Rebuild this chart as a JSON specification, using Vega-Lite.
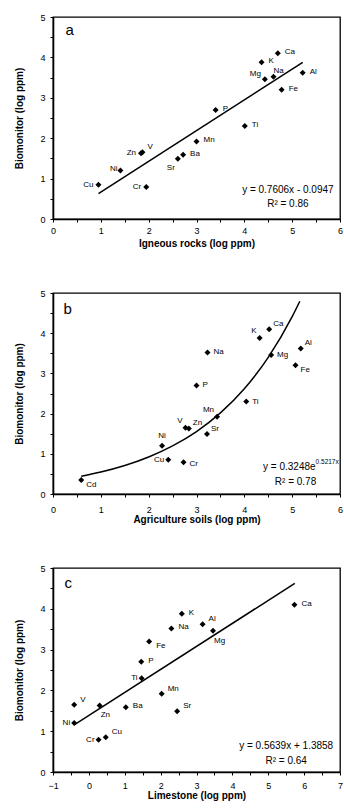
{
"$schema": "https://vega.github.io/schema/vega-lite/v6.json",
"background": "white",
"padding": {"left": 14, "top": 12, "right": 2, "bottom": 2},
"bounds": "flush",
"spacing": 74,
"config": {
  "font": "Liberation Sans",
  "view": {"stroke": "black", "strokeWidth": 1.3},
  "mark": {"color": "black"},
  "axis": {"grid": false, "domainColor": "black", "domainWidth": 1.6, "tickColor": "black", "tickSize": 3, "tickWidth": 1, "labelColor": "black", "labelFont": "Liberation Sans", "labelFontSize": 9, "titleFont": "Liberation Sans", "titleFontSize": 10, "titleFontWeight": "bold", "titleColor": "black", "labelOverlap": false},
  "axisX": {"labelPadding": 4, "titlePadding": 3, "labelFlush": false},
  "axisY": {"labelPadding": 5, "titlePadding": 15},
  "text": {"font": "Liberation Sans", "fill": "black", "color": "black"}
},
"datasets": {
  "a": [
    {"el": "Cu", "x": 0.95, "y": 0.85}, {"el": "Ni", "x": 1.41, "y": 1.20}, {"el": "Zn", "x": 1.84, "y": 1.63}, {"el": "V", "x": 1.87, "y": 1.65},
    {"el": "Cr", "x": 1.95, "y": 0.79}, {"el": "Sr", "x": 2.61, "y": 1.49}, {"el": "Ba", "x": 2.72, "y": 1.59}, {"el": "Mn", "x": 3.00, "y": 1.92},
    {"el": "P", "x": 3.40, "y": 2.70}, {"el": "Ti", "x": 4.01, "y": 2.30}, {"el": "K", "x": 4.36, "y": 3.88}, {"el": "Mg", "x": 4.43, "y": 3.46},
    {"el": "Na", "x": 4.61, "y": 3.52}, {"el": "Ca", "x": 4.70, "y": 4.10}, {"el": "Fe", "x": 4.78, "y": 3.20}, {"el": "Al", "x": 5.22, "y": 3.62}
  ],
  "b": [
    {"el": "Cd", "x": 0.59, "y": 0.35}, {"el": "Ni", "x": 2.28, "y": 1.20}, {"el": "Cu", "x": 2.41, "y": 0.85}, {"el": "Cr", "x": 2.73, "y": 0.79},
    {"el": "V", "x": 2.77, "y": 1.65}, {"el": "Zn", "x": 2.84, "y": 1.63}, {"el": "P", "x": 3.00, "y": 2.70}, {"el": "Sr", "x": 3.22, "y": 1.49},
    {"el": "Na", "x": 3.23, "y": 3.52}, {"el": "Mn", "x": 3.43, "y": 1.92}, {"el": "Ti", "x": 4.04, "y": 2.30}, {"el": "K", "x": 4.32, "y": 3.88},
    {"el": "Ca", "x": 4.52, "y": 4.10}, {"el": "Mg", "x": 4.56, "y": 3.46}, {"el": "Fe", "x": 5.07, "y": 3.20}, {"el": "Al", "x": 5.18, "y": 3.62}
  ],
  "c": [
    {"el": "V", "x": -0.41, "y": 1.65}, {"el": "Ni", "x": -0.41, "y": 1.20}, {"el": "Cr", "x": 0.27, "y": 0.79}, {"el": "Zn", "x": 0.30, "y": 1.63},
    {"el": "Cu", "x": 0.47, "y": 0.85}, {"el": "Ba", "x": 1.03, "y": 1.59}, {"el": "P", "x": 1.46, "y": 2.70}, {"el": "Ti", "x": 1.47, "y": 2.30},
    {"el": "Fe", "x": 1.68, "y": 3.20}, {"el": "Mn", "x": 2.03, "y": 1.92}, {"el": "Na", "x": 2.30, "y": 3.52}, {"el": "Sr", "x": 2.46, "y": 1.49},
    {"el": "K", "x": 2.59, "y": 3.88}, {"el": "Al", "x": 3.17, "y": 3.62}, {"el": "Mg", "x": 3.46, "y": 3.46}, {"el": "Ca", "x": 5.73, "y": 4.10}
  ],
  "fa": [{"x": 0.95, "y": 0.628}, {"x": 5.22, "y": 3.876}],
  "fb": [{"x": 0.59, "y": 0.442}, {"x": 1.0, "y": 0.547}, {"x": 1.5, "y": 0.710}, {"x": 2.0, "y": 0.922}, {"x": 2.5, "y": 1.197}, {"x": 3.0, "y": 1.554}, {"x": 3.5, "y": 2.017}, {"x": 4.0, "y": 2.618}, {"x": 4.5, "y": 3.398}, {"x": 5.0, "y": 4.410}, {"x": 5.16, "y": 4.794}],
  "fc": [{"x": -0.41, "y": 1.155}, {"x": 5.74, "y": 4.623}]
},
"vconcat": [
  {
    "width": 287, "height": 202,
    "data": {"name": "a"},
    "encoding": {
      "x": {"field": "x", "type": "quantitative", "scale": {"domain": [0, 6], "nice": false, "zero": false}, "axis": {"title": "Igneous rocks (log ppm)", "values": [0,0.5,1,1.5,2,2.5,3,3.5,4,4.5,5,5.5,6], "labelExpr": "datum.value % 1 ? '' : format(datum.value, 'd')"}},
      "y": {"field": "y", "type": "quantitative", "scale": {"domain": [0, 5], "nice": false, "zero": false}, "axis": {"title": "Biomonitor (log ppm)", "values": [0,0.5,1,1.5,2,2.5,3,3.5,4,4.5,5], "labelExpr": "datum.value % 1 ? '' : format(datum.value, 'd')"}}
    },
    "layer": [
      {"data": {"name": "fa"}, "mark": {"type": "line", "color": "black", "strokeWidth": 1.5}},
      {"mark": {"type": "point", "shape": "diamond", "filled": true, "color": "black", "size": 36, "opacity": 1}},
      {"transform": [{"filter": {"field": "el", "oneOf": ["Ba", "Mn", "P", "Ti", "K", "Ca", "Al", "Fe"]}}], "mark": {"type": "text", "color": "black", "align": "left", "baseline": "middle", "dx": 7, "dy": -1, "fontSize": 8}, "encoding": {"text": {"field": "el"}}},
      {"transform": [{"filter": {"field": "el", "oneOf": ["Cu", "Zn", "Cr"]}}], "mark": {"type": "text", "color": "black", "align": "right", "baseline": "middle", "dx": -5, "dy": 0, "fontSize": 8}, "encoding": {"text": {"field": "el"}}},
      {"transform": [{"filter": {"field": "el", "oneOf": ["Ni"]}}], "mark": {"type": "text", "color": "black", "align": "right", "baseline": "middle", "dx": -3, "dy": -2, "fontSize": 8}, "encoding": {"text": {"field": "el"}}},
      {"transform": [{"filter": {"field": "el", "oneOf": ["V"]}}], "mark": {"type": "text", "color": "black", "align": "left", "baseline": "middle", "dx": 5, "dy": -5, "fontSize": 8}, "encoding": {"text": {"field": "el"}}},
      {"transform": [{"filter": {"field": "el", "oneOf": ["Mg"]}}], "mark": {"type": "text", "color": "black", "align": "right", "baseline": "middle", "dx": -4, "dy": -5, "fontSize": 8}, "encoding": {"text": {"field": "el"}}},
      {"transform": [{"filter": {"field": "el", "oneOf": ["Sr"]}}], "mark": {"type": "text", "color": "black", "align": "right", "baseline": "middle", "dx": -3, "dy": 9, "fontSize": 8}, "encoding": {"text": {"field": "el"}}},
      {"transform": [{"filter": {"field": "el", "oneOf": ["Na"]}}], "mark": {"type": "text", "color": "black", "align": "left", "baseline": "middle", "dx": 0, "dy": -6, "fontSize": 8}, "encoding": {"text": {"field": "el"}}},
      {"data": {"values": [{"x": 0.26, "y": 4.56, "t": "a"}]}, "mark": {"type": "text", "color": "black", "align": "left", "baseline": "alphabetic", "fontSize": 15}, "encoding": {"text": {"field": "t"}}},
      {"data": {"values": [{"x": 4.91, "y": 0.725, "t": "y = 0.7606x - 0.0947"}, {"x": 4.91, "y": 0.38, "t": "R² = 0.86"}]}, "mark": {"type": "text", "color": "black", "align": "center", "baseline": "middle", "fontSize": 10}, "encoding": {"text": {"field": "t"}}}
    ]
  },
  {
    "width": 287, "height": 201,
    "data": {"name": "b"},
    "encoding": {
      "x": {"field": "x", "type": "quantitative", "scale": {"domain": [0, 6], "nice": false, "zero": false}, "axis": {"title": "Agriculture soils (log ppm)", "labelPadding": 8, "titlePadding": 0, "values": [0,0.5,1,1.5,2,2.5,3,3.5,4,4.5,5,5.5,6], "labelExpr": "datum.value % 1 ? '' : format(datum.value, 'd')"}},
      "y": {"field": "y", "type": "quantitative", "scale": {"domain": [0, 5], "nice": false, "zero": false}, "axis": {"title": "Biomonitor (log ppm)", "values": [0,0.5,1,1.5,2,2.5,3,3.5,4,4.5,5], "labelExpr": "datum.value % 1 ? '' : format(datum.value, 'd')"}}
    },
    "layer": [
      {"data": {"name": "fb"}, "mark": {"type": "line", "color": "black", "strokeWidth": 1.5, "interpolate": "monotone"}},
      {"mark": {"type": "point", "shape": "diamond", "filled": true, "color": "black", "size": 36, "opacity": 1}},
      {"transform": [{"filter": {"field": "el", "oneOf": ["Na", "P", "Ti", "Mg"]}}], "mark": {"type": "text", "color": "black", "align": "left", "baseline": "middle", "dx": 6, "dy": 0, "fontSize": 8}, "encoding": {"text": {"field": "el"}}},
      {"transform": [{"filter": {"field": "el", "oneOf": ["Cr"]}}], "mark": {"type": "text", "color": "black", "align": "left", "baseline": "middle", "dx": 6, "dy": 2, "fontSize": 8}, "encoding": {"text": {"field": "el"}}},
      {"transform": [{"filter": {"field": "el", "oneOf": ["Cu"]}}], "mark": {"type": "text", "color": "black", "align": "right", "baseline": "middle", "dx": -4, "dy": 0, "fontSize": 8}, "encoding": {"text": {"field": "el"}}},
      {"transform": [{"filter": {"field": "el", "oneOf": ["Cd", "Fe"]}}], "mark": {"type": "text", "color": "black", "align": "left", "baseline": "middle", "dx": 5, "dy": 5, "fontSize": 8}, "encoding": {"text": {"field": "el"}}},
      {"transform": [{"filter": {"field": "el", "oneOf": ["Zn", "Sr", "Ca", "Al"]}}], "mark": {"type": "text", "color": "black", "align": "left", "baseline": "middle", "dx": 4, "dy": -5, "fontSize": 8}, "encoding": {"text": {"field": "el"}}},
      {"transform": [{"filter": {"field": "el", "oneOf": ["V", "Mn", "K"]}}], "mark": {"type": "text", "color": "black", "align": "right", "baseline": "middle", "dx": -3, "dy": -7, "fontSize": 8}, "encoding": {"text": {"field": "el"}}},
      {"transform": [{"filter": {"field": "el", "oneOf": ["Ni"]}}], "mark": {"type": "text", "color": "black", "align": "center", "baseline": "middle", "dx": 0, "dy": -10, "fontSize": 8}, "encoding": {"text": {"field": "el"}}},
      {"data": {"values": [{"x": 0.22, "y": 4.48, "t": "b"}]}, "mark": {"type": "text", "color": "black", "align": "left", "baseline": "alphabetic", "fontSize": 15}, "encoding": {"text": {"field": "t"}}},
      {"data": {"values": [{"x": 5.49, "y": 0.664, "t": "y = 0.3248e"}]}, "mark": {"type": "text", "color": "black", "align": "right", "baseline": "middle", "fontSize": 10}, "encoding": {"text": {"field": "t"}}},
      {"data": {"values": [{"x": 5.49, "y": 0.664, "t": "0.5217x"}]}, "mark": {"type": "text", "color": "black", "align": "left", "baseline": "middle", "dy": -5, "fontSize": 6.5}, "encoding": {"text": {"field": "t"}}},
      {"data": {"values": [{"x": 5.07, "y": 0.306, "t": "R² = 0.78"}]}, "mark": {"type": "text", "color": "black", "align": "center", "baseline": "middle", "fontSize": 10}, "encoding": {"text": {"field": "t"}}}
    ]
  },
  {
    "width": 287, "height": 204,
    "data": {"name": "c"},
    "encoding": {
      "x": {"field": "x", "type": "quantitative", "scale": {"domain": [-1, 7], "nice": false, "zero": false}, "axis": {"title": "Limestone (log ppm)", "labelPadding": 6, "titlePadding": 0, "values": [-1,-0.5,0,0.5,1,1.5,2,2.5,3,3.5,4,4.5,5,5.5,6,6.5,7], "labelExpr": "datum.value % 1 ? '' : format(datum.value, 'd')"}},
      "y": {"field": "y", "type": "quantitative", "scale": {"domain": [0, 5], "nice": false, "zero": false}, "axis": {"title": "Biomonitor (log ppm)", "values": [0,0.5,1,1.5,2,2.5,3,3.5,4,4.5,5], "labelExpr": "datum.value % 1 ? '' : format(datum.value, 'd')"}}
    },
    "layer": [
      {"data": {"name": "fc"}, "mark": {"type": "line", "color": "black", "strokeWidth": 1.5}},
      {"mark": {"type": "point", "shape": "diamond", "filled": true, "color": "black", "size": 36, "opacity": 1}},
      {"transform": [{"filter": {"field": "el", "oneOf": ["Ba", "P", "Na", "K", "Ca"]}}], "mark": {"type": "text", "color": "black", "align": "left", "baseline": "middle", "dx": 7, "dy": -1, "fontSize": 8}, "encoding": {"text": {"field": "el"}}},
      {"transform": [{"filter": {"field": "el", "oneOf": ["Ni", "Cr", "Ti"]}}], "mark": {"type": "text", "color": "black", "align": "right", "baseline": "middle", "dx": -4, "dy": 0, "fontSize": 8}, "encoding": {"text": {"field": "el"}}},
      {"transform": [{"filter": {"field": "el", "oneOf": ["V", "Cu", "Mn", "Sr", "Al"]}}], "mark": {"type": "text", "color": "black", "align": "left", "baseline": "middle", "dx": 6, "dy": -5, "fontSize": 8}, "encoding": {"text": {"field": "el"}}},
      {"transform": [{"filter": {"field": "el", "oneOf": ["Fe"]}}], "mark": {"type": "text", "color": "black", "align": "left", "baseline": "middle", "dx": 7, "dy": 5, "fontSize": 8}, "encoding": {"text": {"field": "el"}}},
      {"transform": [{"filter": {"field": "el", "oneOf": ["Zn", "Mg"]}}], "mark": {"type": "text", "color": "black", "align": "left", "baseline": "middle", "dx": 1, "dy": 10, "fontSize": 8}, "encoding": {"text": {"field": "el"}}},
      {"data": {"values": [{"x": -0.68, "y": 4.51, "t": "c"}]}, "mark": {"type": "text", "color": "black", "align": "left", "baseline": "alphabetic", "fontSize": 15}, "encoding": {"text": {"field": "t"}}},
      {"data": {"values": [{"x": 5.5, "y": 0.645, "t": "y = 0.5639x + 1.3858"}, {"x": 5.5, "y": 0.277, "t": "R² = 0.64"}]}, "mark": {"type": "text", "color": "black", "align": "center", "baseline": "middle", "fontSize": 10}, "encoding": {"text": {"field": "t"}}}
    ]
  }
]
}
